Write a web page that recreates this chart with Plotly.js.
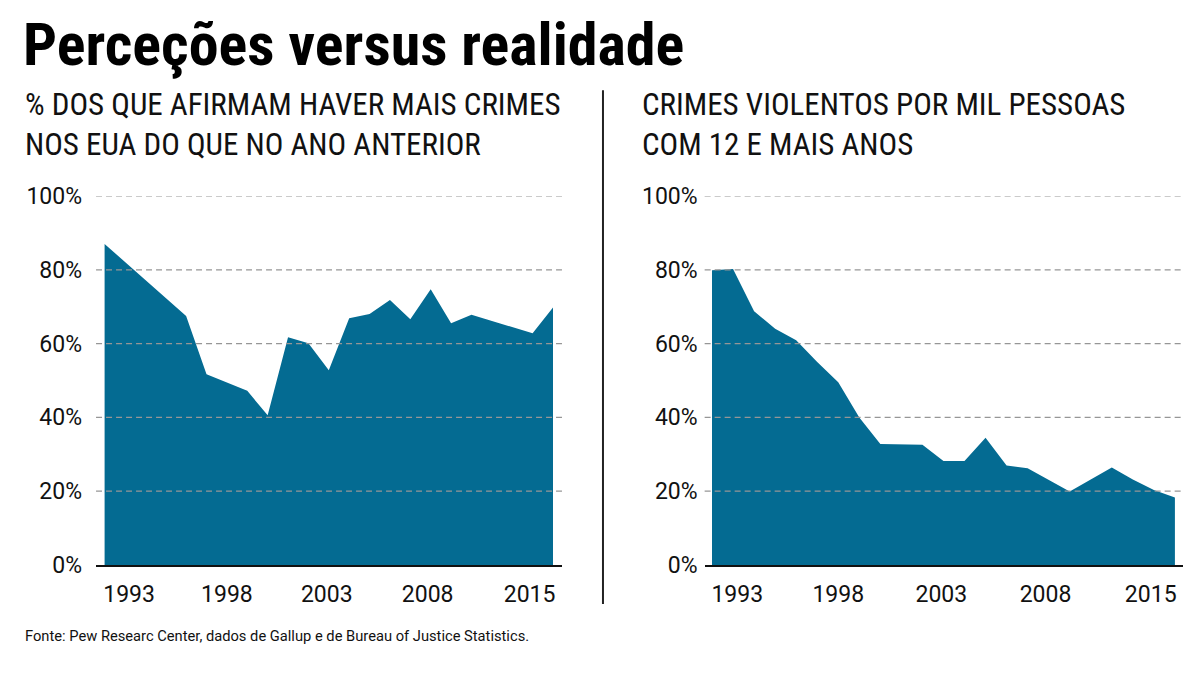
<!DOCTYPE html>
<html>
<head>
<meta charset="utf-8">
<script src="https://cdn.plot.ly/plotly-3.0.1.min.js"></script>
<style>
  html, body { margin: 0; padding: 0; background: #ffffff; }
  #chart { width: 1199px; height: 674px; }
</style>
</head>
<body>
<div id="chart"></div>
<script>
// ---- Data ----
const perceptionYears = [1993, 1997, 1998, 2000, 2001, 2002, 2003, 2004, 2005, 2006, 2007, 2008, 2009, 2010, 2011, 2014, 2015];
const perceptionValues = [87, 67.5, 51.7, 47.2, 40.6, 61.7, 60.1, 52.8, 66.9, 68.0, 71.8, 66.6, 74.7, 65.5, 67.8, 62.8, 69.8];

const crimeYears = [1993, 1994, 1995, 1996, 1997, 1998, 1999, 2000, 2001, 2002, 2003, 2004, 2005, 2006, 2007, 2008, 2009, 2010, 2011, 2012, 2013, 2014, 2015];
const crimeValues = [79.9, 80.2, 68.8, 64.0, 60.9, 55.0, 49.5, 40.0, 32.8, 32.7, 32.6, 28.2, 28.2, 34.5, 27.0, 26.2, 23.0, 19.9, 23.2, 26.4, 23.2, 20.3, 18.3];

const xTickLabels = ['1993', '1998', '2003', '2008', '2015'];
const yTickValues = [0, 20, 40, 60, 80, 100];
const yTickLabels = ['0%', '20%', '40%', '60%', '80%', '100%'];

const titleText = 'Perceções versus realidade';
const leftSubtitle = '% DOS QUE AFIRMAM HAVER MAIS CRIMES<br>NOS EUA DO QUE NO ANO ANTERIOR';
const rightSubtitle = 'CRIMES VIOLENTOS POR MIL PESSOAS<br>COM 12 E MAIS ANOS';
const sourceText = 'Fonte: Pew Researc Center, dados de Gallup e de Bureau of Justice Statistics.';

// ---- Styling ----
const FILL = '#046b92';
const narrow = '"Liberation Sans Narrow", "Roboto Condensed", Roboto, sans-serif';
const tickFont = { family: 'Roboto, sans-serif', size: 23, color: '#111' };
const tickPositions = [1994.2, 1999.0, 2003.9, 2008.85, 2013.85];

const traces = [
  { x: perceptionYears, y: perceptionValues, xaxis: 'x', yaxis: 'y', type: 'scatter', mode: 'lines',
    fill: 'tozeroy', fillcolor: FILL, line: { width: 0, color: FILL }, hoverinfo: 'x+y' },
  { x: crimeYears, y: crimeValues, xaxis: 'x2', yaxis: 'y2', type: 'scatter', mode: 'lines',
    fill: 'tozeroy', fillcolor: FILL, line: { width: 0, color: FILL }, hoverinfo: 'x+y' }
];

function xAxis(domain, range) {
  return {
    domain: domain, range: range, showgrid: false, zeroline: false,
    showline: true, linecolor: '#111', linewidth: 1.6,
    tickmode: 'array', tickvals: tickPositions, ticktext: xTickLabels,
    ticks: '', tickfont: tickFont, ticklabelstandoff: 8, fixedrange: true
  };
}
function yAxis(anchor, standoff) {
  return {
    domain: [0.1617, 0.7092], range: [0, 100], anchor: anchor,
    showgrid: false, zeroline: false, showline: false,
    tickmode: 'array', tickvals: yTickValues, ticktext: yTickLabels,
    ticks: '', tickfont: tickFont, ticklabelstandoff: standoff, fixedrange: true
  };
}

const shapes = [];
['x', 'x2'].forEach(function (xa, i) {
  const ya = i === 0 ? 'y' : 'y2';
  yTickValues.slice(1).forEach(function (v) {
    shapes.push({ type: 'line', xref: xa + ' domain', yref: ya, x0: 0, x1: 1, y0: v, y1: v,
      layer: 'above', line: { color: '#969696', width: 1.2, dash: '6px,4px' } });
  });
});
shapes.push({ type: 'line', xref: 'paper', yref: 'paper', x0: 0.5029, x1: 0.5029, y0: 0.104, y1: 0.866,
  line: { color: '#222', width: 2 } });

function py(px) { return (674 - px) / 674; }

const annotations = [
  { text: titleText, xref: 'paper', yref: 'paper', x: 0.0175, y: py(44), xanchor: 'left', yanchor: 'middle',
    showarrow: false, font: { family: narrow, size: 60, weight: 700, color: '#000' } },
  { text: leftSubtitle, xref: 'paper', yref: 'paper', x: 0.0195, y: py(124), xanchor: 'left', yanchor: 'middle',
    align: 'left', showarrow: false, font: { family: narrow, size: 31, color: '#111' } },
  { text: rightSubtitle, xref: 'paper', yref: 'paper', x: 0.5335, y: py(124), xanchor: 'left', yanchor: 'middle',
    align: 'left', showarrow: false, font: { family: narrow, size: 31, color: '#111' } },
  { text: sourceText, xref: 'paper', yref: 'paper', x: 0.0195, y: py(636), xanchor: 'left', yanchor: 'middle',
    align: 'left', showarrow: false, font: { family: 'Roboto, sans-serif', size: 14.7, color: '#111' } }
];

const layout = {
  width: 1199, height: 674,
  margin: { l: 0, r: 0, t: 0, b: 0 },
  paper_bgcolor: '#ffffff', plot_bgcolor: '#ffffff',
  showlegend: false,
  xaxis: xAxis([0.0801, 0.4687], [1992.58, 2015.44]),
  yaxis: yAxis('x', 13),
  xaxis2: xAxis([0.5877, 0.9864], [1992.65, 2015.37]),
  yaxis2: yAxis('x2', 6),
  shapes: shapes,
  annotations: annotations
};

Plotly.newPlot('chart', traces, layout, { displayModeBar: false, staticPlot: true });
</script>
</body>
</html>
